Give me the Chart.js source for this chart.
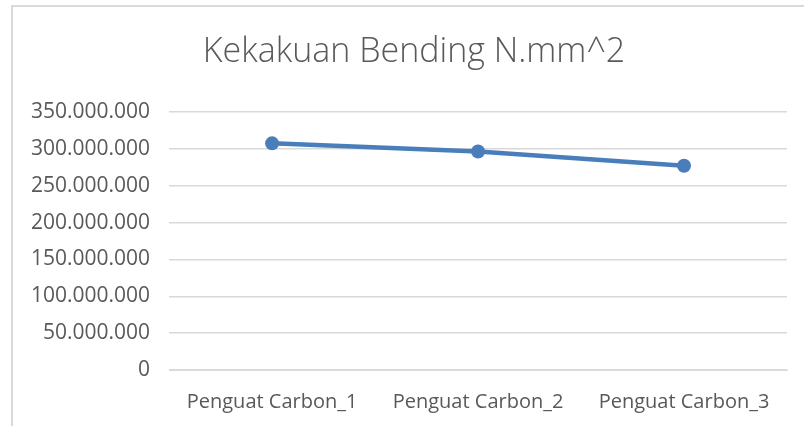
<!DOCTYPE html>
<html lang='id'>
<head>
  <meta charset='UTF-8'>
  <title>Kekakuan Bending</title>
  <script src="https://cdn.jsdelivr.net/npm/chart.js@4.4.1/dist/chart.umd.min.js"></script>
  <style>
    html, body { margin:0; padding:0; background:#fff; }
    #wrap { position:relative; width:804px; height:426px; }
  </style>
</head>
<body>
<div id="wrap">
  <canvas id="myChart" width="804" height="426"></canvas>
</div>
<script>
  // data
  var v_labels = ['Penguat Carbon_1', 'Penguat Carbon_2', 'Penguat Carbon_3'];
  var v_values = [307500000, 296500000, 277000000];
  var v_title = 'Kekakuan Bending N.mm^2';
  var v_yMax = 350000000;
  var v_yStep = 50000000;

  // angka pakai titik sebagai pemisah ribuan
  var f_fmt = function(v){
    return String(v).replace(/\B(?=(\d{3})+(?!\d))/g, '.');
  };

  // garis tepi kotak chart (kiri + atas) + judul (posisinya agak ke kanan di aslinya)
  var p_frame = {
    id: 'p_frame',
    beforeDraw: function(chart){
      var c = chart.ctx;
      c.save();
      c.strokeStyle = '#d9d9d9';
      c.lineWidth = 2;
      c.beginPath();
      c.moveTo(12, 426);
      c.lineTo(12, 6);
      c.lineTo(804, 6);
      c.stroke();
      c.fillStyle = '#595959';
      c.font = '300 34px "Open Sans"';
      c.textAlign = 'center';
      c.textBaseline = 'middle';
      c.fillText(v_title, 414, 52);
      c.restore();
    }
  };

  var ctx = document.getElementById('myChart').getContext('2d');
  var myChart = new Chart(ctx, {
    type: 'line',
    data: {
      labels: v_labels,
      datasets: [{
        label: v_title,
        data: v_values,
        borderColor: '#4a7ebb',
        backgroundColor: '#4a7ebb',
        borderWidth: 4.5,
        pointRadius: 7,
        pointHoverRadius: 7,
        pointBackgroundColor: '#4a7ebb',
        pointBorderWidth: 0,
        tension: 0
      }]
    },
    options: {
      responsive: false,
      animation: false,
      layout: { padding: { left: 12, right: 17, top: 112, bottom: 0 } },
      plugins: {
        legend: { display: false },
        tooltip: { enabled: false },
        title: { display: false }
      },
      scales: {
        x: {
          offset: true,
          grid: { display: false },
          border: { color: '#d9d9d9', width: 1 },
          ticks: {
            color: '#595959',
            font: { family: 'Open Sans', size: 20 },
            maxRotation: 0,
            padding: 12
          }
        },
        y: {
          min: 0,
          max: v_yMax,
          grid: { color: '#d9d9d9', lineWidth: 1.5, drawTicks: false },
          border: { display: false },
          ticks: {
            stepSize: v_yStep,
            color: '#595959',
            font: { family: 'Open Sans', size: 21 },
            padding: 19,
            callback: function(v){ return f_fmt(v); }
          }
        }
      }
    },
    plugins: [p_frame]
  });
</script>
</body>
</html>
